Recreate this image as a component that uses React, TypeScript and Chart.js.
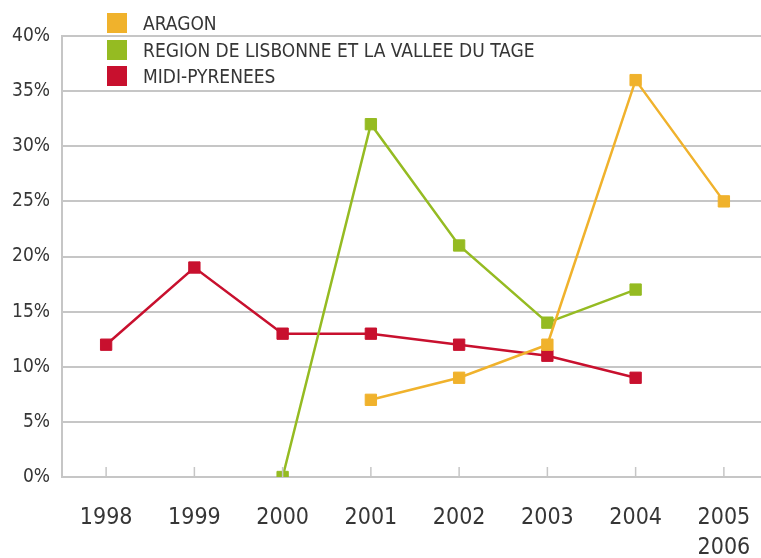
import React, { useEffect, useRef } from "react";
import { Chart, registerables } from "chart.js";

Chart.register(...registerables);

const categories: (string | string[])[] = ["1998", "1999", "2000", "2001", "2002", "2003", "2004", ["2005", "2006"]];
const aragon: (number | null)[] = [null, null, null, 7, 9, 12, 36, 25];
const lisbonne: (number | null)[] = [null, null, 0, 32, 21, 14, 17, null];
const midiPyrenees: (number | null)[] = [12, 19, 13, 13, 12, 11, 9, null];
const seriesNames = ["ARAGON", "REGION DE LISBONNE ET LA VALLEE DU TAGE", "MIDI-PYRENEES"];
const seriesColors = ["#f0b22c", "#95bb22", "#c8102e"];
const yTicks = [0, 5, 10, 15, 20, 25, 30, 35, 40];

const FONT = "'DejaVu Sans Condensed', 'DejaVu Sans', sans-serif";
const TEXT = "#363636";
const GRID = "#c6c6c6";

const W = 777;
const H = 566;

const tickMarks = {
  id: "tickMarks",
  afterDatasetsDraw(chart: any) {
    const x = chart.scales.x;
    const ctx = chart.ctx;
    const bottom = chart.chartArea.bottom;
    ctx.save();
    ctx.strokeStyle = GRID;
    ctx.lineWidth = 1.5;
    x.ticks.forEach((_t: any, i: number) => {
      const px = x.getPixelForTick(i);
      ctx.beginPath();
      ctx.moveTo(px, bottom);
      ctx.lineTo(px, bottom - 10);
      ctx.stroke();
    });
    ctx.restore();
  },
};

export default function App() {
  const ref = useRef<HTMLCanvasElement | null>(null);
  useEffect(() => {
    if (!ref.current) return;
    const datasets = [aragon, lisbonne, midiPyrenees].map((d, i) => ({
      label: seriesNames[i],
      data: d,
      borderColor: seriesColors[i],
      backgroundColor: seriesColors[i],
      pointBackgroundColor: seriesColors[i],
      pointBorderColor: seriesColors[i],
      pointStyle: "rect" as const,
      pointRadius: 8,
      pointBorderWidth: 1,
      borderWidth: 2.5,
      tension: 0,
      spanGaps: false,
    }));
    const chart = new Chart(ref.current, {
      type: "line",
      data: { labels: categories as any, datasets },
      plugins: [tickMarks],
      options: {
        animation: false,
        responsive: true,
        maintainAspectRatio: false,
        layout: { padding: { top: 36, left: 0, right: 0, bottom: 0 } },
        plugins: { legend: { display: false }, tooltip: { enabled: false } },
        scales: {
          x: {
            type: "category",
            offset: true,
            grid: { display: false, drawTicks: false },
            border: { display: false },
            ticks: {
              color: TEXT,
              padding: 26,
              maxRotation: 0,
              autoSkip: false,
              font: { family: FONT, size: 23, lineHeight: 1.3 },
            },
            afterFit: (s: any) => {
              s.height = 89;
            },
          },
          y: {
            min: 0,
            max: 40,
            afterBuildTicks: (s: any) => {
              s.ticks = yTicks.map((v) => ({ value: v }));
            },
            grid: { color: GRID, lineWidth: 2, drawTicks: false },
            border: { display: true, color: GRID, width: 2 },
            ticks: {
              color: TEXT,
              padding: 12,
              font: { family: FONT, size: 19 },
              callback: (v: any) => v + "%",
            },
            afterFit: (s: any) => {
              s.width = 62;
            },
          },
        },
      },
    });
    return () => chart.destroy();
  }, []);

  return (
    <div style={{ position: "fixed", left: 0, top: 0, width: 761, height: 558, overflow: "hidden", background: "#fff" }}>
      <div style={{ position: "absolute", left: 0, top: 0, width: W, height: H }}>
        <canvas ref={ref} />
      </div>
      {seriesNames.map((name, i) => (
        <div
          key={name}
          style={{
            position: "absolute",
            left: 107,
            top: 13 + i * 26.5,
            height: 20,
            display: "flex",
            alignItems: "center",
            fontFamily: FONT,
            fontSize: 19,
            color: TEXT,
            whiteSpace: "nowrap",
          }}
        >
          <span style={{ display: "inline-block", width: 20, height: 20, background: seriesColors[i], marginRight: 16 }} />
          <span>{name}</span>
        </div>
      ))}
    </div>
  );
}
